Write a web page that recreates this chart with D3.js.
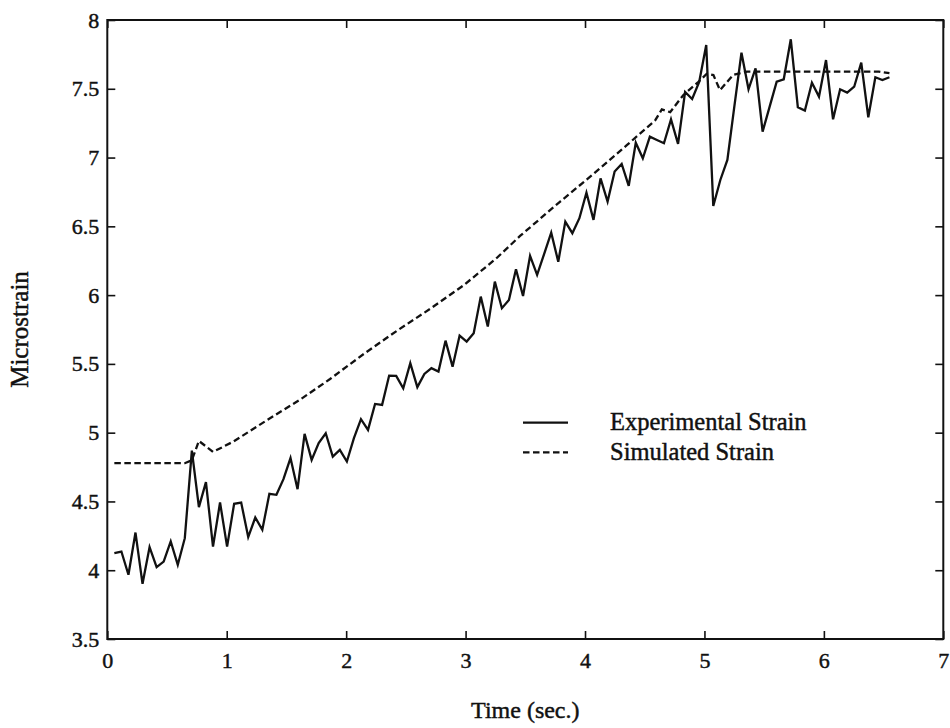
<!DOCTYPE html>
<html>
<head>
<meta charset="utf-8">
<script src="https://cdn.jsdelivr.net/npm/d3@7"></script>
<style>
  html, body { margin: 0; padding: 0; background: #fff; }
  svg { display: block; }
  text { font-family: "Liberation Serif", "Times New Roman", serif; fill: #111; stroke: #111; stroke-width: 0.45px; }
</style>
</head>
<body>
<svg id="chart" width="950" height="728"></svg>
<script>
// Sample times (s) of the experimental record
const expTime = [
  0.059, 0.118, 0.177, 0.236, 0.295, 0.354, 0.413, 0.472, 0.531, 0.590,
  0.649, 0.708, 0.767, 0.826, 0.885, 0.944, 1.003, 1.062, 1.121, 1.180,
  1.239, 1.298, 1.357, 1.416, 1.475, 1.534, 1.593, 1.652, 1.711, 1.770,
  1.829, 1.888, 1.947, 2.006, 2.065, 2.124, 2.183, 2.242, 2.301, 2.360,
  2.419, 2.478, 2.537, 2.596, 2.655, 2.714, 2.773, 2.832, 2.891, 2.950,
  3.009, 3.068, 3.127, 3.186, 3.245, 3.304, 3.363, 3.422, 3.481, 3.540,
  3.599, 3.658, 3.717, 3.776, 3.835, 3.894, 3.953, 4.012, 4.071, 4.130,
  4.189, 4.248, 4.307, 4.366, 4.425, 4.484, 4.543, 4.602, 4.661, 4.720,
  4.779, 4.838, 4.897, 4.956, 5.015, 5.074, 5.133, 5.192, 5.251, 5.310,
  5.369, 5.428, 5.487, 5.546, 5.605, 5.664, 5.723, 5.782, 5.841, 5.900,
  5.959, 6.018, 6.077, 6.136, 6.195, 6.254, 6.313, 6.372, 6.431, 6.490,
  6.549
];

// Measured strain (microstrain)
const expStrain = [
  4.124, 4.136, 3.967, 4.274, 3.901, 4.168, 4.023, 4.063, 4.209, 4.039,
  4.233, 4.870, 4.459, 4.640, 4.172, 4.492, 4.172, 4.483, 4.492, 4.241,
  4.383, 4.294, 4.555, 4.548, 4.662, 4.815, 4.589, 4.991, 4.802, 4.924,
  4.996, 4.826, 4.875, 4.790, 4.960, 5.098, 5.020, 5.209, 5.202, 5.415,
  5.413, 5.323, 5.505, 5.331, 5.427, 5.469, 5.444, 5.669, 5.480, 5.706,
  5.662, 5.723, 5.989, 5.771, 6.098, 5.905, 5.965, 6.188, 5.994, 6.285,
  6.147, 6.300, 6.454, 6.243, 6.534, 6.450, 6.559, 6.745, 6.547, 6.849,
  6.680, 6.898, 6.953, 6.794, 7.108, 6.995, 7.152, 7.128, 7.104, 7.278,
  7.099, 7.477, 7.426, 7.550, 7.818, 6.648, 6.837, 6.983, 7.375, 7.762,
  7.496, 7.649, 7.188, 7.370, 7.552, 7.569, 7.860, 7.366, 7.341, 7.544,
  7.443, 7.709, 7.278, 7.496, 7.472, 7.515, 7.690, 7.293, 7.584, 7.564,
  7.584
];

// Simulated strain from the model
const simTime = [
  0.059, 0.649, 0.708, 0.767, 0.826, 0.885, 1.055, 1.335, 1.614, 1.865,
  2.144, 2.424, 2.703, 2.982, 3.261, 3.456, 3.792, 4.070, 4.350, 4.587,
  4.643, 4.713, 4.824, 4.950, 5.020, 5.075, 5.130, 5.240, 5.355, 6.000,
  6.460, 6.549
];
const simStrain = [
  4.778, 4.778, 4.800, 4.940, 4.900, 4.860, 4.935, 5.090, 5.240, 5.390,
  5.570, 5.740, 5.900, 6.070, 6.270, 6.430, 6.680, 6.880, 7.090, 7.270,
  7.350, 7.330, 7.455, 7.550, 7.610, 7.600, 7.490, 7.600, 7.625, 7.625,
  7.625, 7.613
];

const xTicks = [0, 1, 2, 3, 4, 5, 6, 7];
const yTicks = [3.5, 4, 4.5, 5, 5.5, 6, 6.5, 7, 7.5, 8];
const seriesNames = ["Experimental Strain", "Simulated Strain"];

const svg = d3.select("#chart");
const plotL = 107.3, plotR = 943.3, plotT = 20, plotB = 639;

const x = d3.scaleLinear().domain([0, 7]).range([plotL, plotR]);
const y = d3.scaleLinear().domain([3.5, 8]).range([plotB, plotT]);

const ink = "#111";
const tickLen = 8;

// Bottom axis with inward ticks and labels
const gx = svg.append("g").attr("transform", `translate(0,${plotB})`)
  .call(d3.axisBottom(x).tickValues(xTicks).tickFormat(d3.format("d"))
    .tickSizeInner(-tickLen).tickSizeOuter(0).tickPadding(13));
// Left axis
const gy = svg.append("g").attr("transform", `translate(${plotL},0)`)
  .call(d3.axisLeft(y).tickValues(yTicks).tickFormat(d => String(d))
    .tickSizeInner(-tickLen).tickSizeOuter(0).tickPadding(8));
// Top and right axes: ticks only
const gt = svg.append("g").attr("transform", `translate(0,${plotT})`)
  .call(d3.axisTop(x).tickValues(xTicks).tickFormat("")
    .tickSizeInner(-tickLen).tickSizeOuter(0));
const gr = svg.append("g").attr("transform", `translate(${plotR},0)`)
  .call(d3.axisRight(y).tickValues(yTicks).tickFormat("")
    .tickSizeInner(-tickLen).tickSizeOuter(0));

[gx, gy, gt, gr].forEach(g => {
  g.select(".domain").remove();
  g.selectAll(".tick line").attr("stroke", ink).attr("stroke-width", 1.6);
  g.selectAll(".tick text")
    .attr("fill", ink)
    .style("font-family", '"Liberation Serif", "Times New Roman", serif')
    .style("font-size", "22px");
});

// Plot frame
svg.append("rect")
  .attr("x", plotL).attr("y", plotT)
  .attr("width", plotR - plotL).attr("height", plotB - plotT)
  .attr("fill", "none").attr("stroke", ink).attr("stroke-width", 2);

// Series lines
const line = d3.line().x(d => x(d[0])).y(d => y(d[1]));
const expData = expTime.map((t, i) => [t, expStrain[i]]);
const simData = simTime.map((t, i) => [t, simStrain[i]]);

svg.append("path").datum(simData)
  .attr("d", line).attr("fill", "none")
  .attr("stroke", ink).attr("stroke-width", 2.3)
  .attr("stroke-dasharray", "6.5,3.5");

svg.append("path").datum(expData)
  .attr("d", line).attr("fill", "none")
  .attr("stroke", ink).attr("stroke-width", 2.3)
  .attr("stroke-linejoin", "miter");

// Legend
const legend = svg.append("g");
const legendRows = [
  { name: seriesNames[0], dash: null, ly: 422.7, ty: 430 },
  { name: seriesNames[1], dash: "6.5,3.5", ly: 452.3, ty: 460 }
];
legendRows.forEach(r => {
  legend.append("line")
    .attr("x1", 523).attr("x2", 568).attr("y1", r.ly).attr("y2", r.ly)
    .attr("stroke", ink).attr("stroke-width", 2.2)
    .attr("stroke-dasharray", r.dash);
  legend.append("text")
    .attr("x", 610).attr("y", r.ty)
    .style("font-size", "24.5px")
    .text(r.name);
});

// Axis titles
svg.append("text")
  .attr("x", (plotL + plotR) / 2).attr("y", 718)
  .attr("text-anchor", "middle")
  .style("font-size", "24px")
  .text("Time (sec.)");

svg.append("text")
  .attr("transform", `translate(28,${(plotT + plotB) / 2}) rotate(-90)`)
  .attr("text-anchor", "middle")
  .style("font-size", "25px")
  .text("Microstrain");
</script>
</body>
</html>
